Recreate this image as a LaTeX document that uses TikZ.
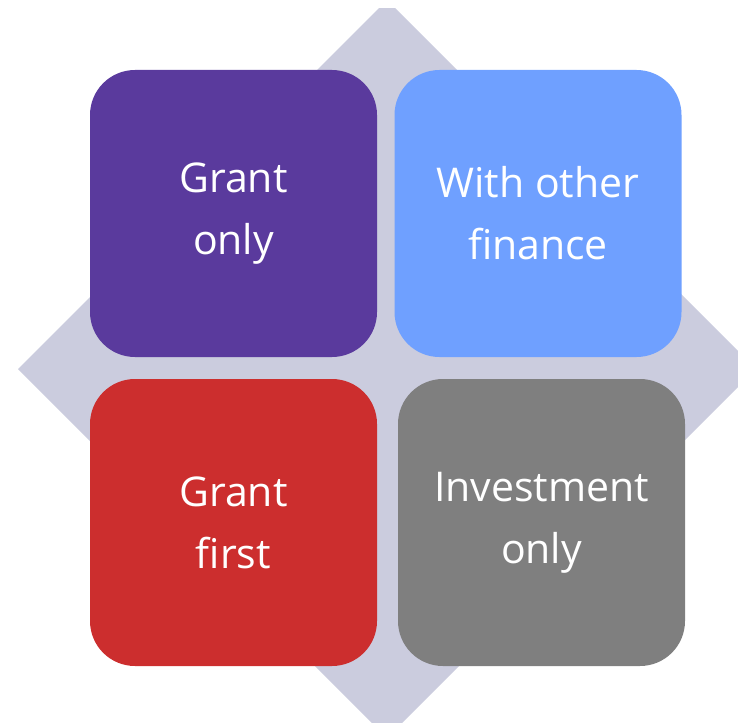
\documentclass[tikz,border=0pt]{standalone}
\usepackage{fontspec}
\setmainfont{Open Sans}
\definecolor{diamondgray}{HTML}{CBCCDE}
\definecolor{tilepurple}{HTML}{5A3A9D}
\definecolor{tileblue}{HTML}{6FA0FF}
\definecolor{tilered}{HTML}{CC2E2E}
\definecolor{tilegray}{HTML}{7F7F7F}
\tikzset{
  tile/.style={rounded corners=45pt, inner sep=0pt, minimum width=287pt,
    minimum height=287pt, text=white, align=center,
    font=\fontsize{41}{62}\selectfont}
}

\begin{document}
\begin{tikzpicture}[x=1pt, y=-1pt]

  % page frame
  \useasboundingbox (0,0) rectangle (738,722);

  % background diamond, cut at the page edges
  \begin{scope}
    \clip (0,9) rectangle (738,722);
    \fill[diamondgray] (387,0) -- (756,369) -- (387,738) -- (18,369) -- cycle;
  \end{scope}

  % four tiles
  \node[tile, fill=tilepurple] (grantonly) at (233.5,213.5) {Grant\\only};
  \node[tile, fill=tileblue]   (withother) at (538,213.5)   {With other\\finance};
  \node[tile, fill=tilered]    (grantfirst) at (233.5,522.5) {Grant\\first};
  \node[tile, fill=tilegray]   (investonly) at (541.5,522.5) {Investment\\only};

\end{tikzpicture}
\end{document}
